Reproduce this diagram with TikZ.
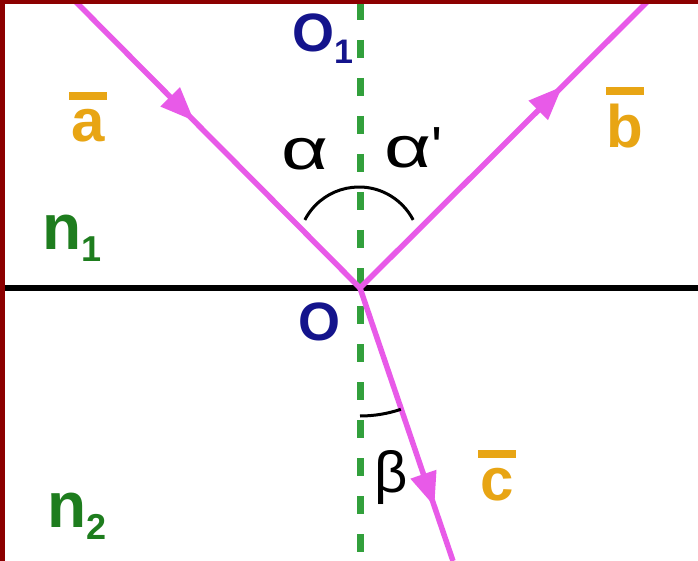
\documentclass[tikz,border=0pt]{standalone}
\usepackage{graphicx}
\usepackage{fontspec}
\setmainfont{Liberation Sans}
\usetikzlibrary{arrows.meta,decorations.markings}
\definecolor{raycol}{RGB}{232,90,232}
\definecolor{goldcol}{RGB}{232,165,20}
\definecolor{ngreen}{RGB}{30,125,30}
\definecolor{dgreen}{RGB}{50,160,60}
\definecolor{navyb}{RGB}{20,20,140}
\definecolor{framecol}{RGB}{140,0,0}
\newcommand\vecbar[1]{\setbox0\hbox{#1}\vbox{\hrule height 8pt width 38pt\kern 10pt\hbox to 38pt{\hss\box0\hss}}}
\newcommand\widealpha{\scalebox{1.4}[1]{α}}
\begin{document}
\begin{tikzpicture}[x=1pt,y=-1pt,
  raypath/.style={draw=raycol,line width=5.5pt},
  arrowat/.style={postaction={decorate,decoration={markings,
      mark=at position #1 with {\arrow[raycol]{Triangle[length=34pt,width=26pt]}}}}},
  normal/.style={draw=dgreen,line width=7pt,dash pattern=on 18pt off 20pt},
  iface/.style={draw=black,line width=6pt},
  anglearc/.style={draw=black,line width=3pt},
  veclab/.style={text=goldcol,font=\fontsize{60}{60}\selectfont\bfseries,inner sep=0pt,anchor=base},
  nlab/.style={text=ngreen,font=\fontsize{64}{64}\selectfont\bfseries,inner sep=0pt,anchor=base west},
  olab/.style={text=navyb,font=\fontsize{54}{54}\selectfont\bfseries,inner sep=0pt,anchor=base west},
  glab/.style={text=black,font=\fontsize{58}{58}\selectfont,inner sep=0pt,anchor=base},
  framefill/.style={fill=framecol}]
\useasboundingbox (0,0) rectangle (698,561);
\clip (0,0) rectangle (698,561);
\fill[white] (0,0) rectangle (698,561);
% points
\coordinate (O) at (360,288);
\coordinate (A) at (74,0);
\coordinate (B) at (649,0);
\coordinate (C) at (453,561);
\coordinate (Nt) at (360,2);
\coordinate (Nb) at (360,561);
\coordinate (Il) at (5,288);
\coordinate (Ir) at (698,288);
% normal and interface
\draw[normal] (Nt) -- (Nb);
\draw[iface] (Il) -- (Ir);
% rays
\draw[raypath,arrowat=0.42] (A) -- (O);
\draw[raypath,arrowat=0.70] (O) -- (B);
\draw[raypath,arrowat=0.80] (O) -- (C);
% angle arcs
\draw[anglearc] (359,248) ++(207.4:61) arc[start angle=207.4,end angle=332.6,radius=61];
\draw[anglearc] (O) ++(90:128) arc[start angle=90,end angle=71.4,radius=128];
% labels
\node[olab] (lO1) at (292,52) {O\raisebox{-12pt}{\fontsize{34}{34}\selectfont 1}};
\node[olab] (lO) at (298,340) {O};
\node[veclab] (la) at (88,142) {\vecbar{a}};
\node[veclab] (lb) at (625,148) {\vecbar{b}};
\node[veclab] (lc) at (497,500) {\vecbar{c}};
\node[nlab] (ln1) at (42,250) {n\raisebox{-12pt}{\fontsize{36}{36}\selectfont 1}};
\node[nlab] (ln2) at (47,527) {n\raisebox{-12pt}{\fontsize{36}{36}\selectfont 2}};
\node[glab] (lal) at (305,170) {\widealpha};
\node[glab] (lalp) at (414,168) {\widealpha\textquotesingle};
\node[glab] (lbe) at (391,492) {β};
% frame
\fill[framefill] (0,0) rectangle (698,4);
\fill[framefill] (0,0) rectangle (5,561);
\end{tikzpicture}
\end{document}
